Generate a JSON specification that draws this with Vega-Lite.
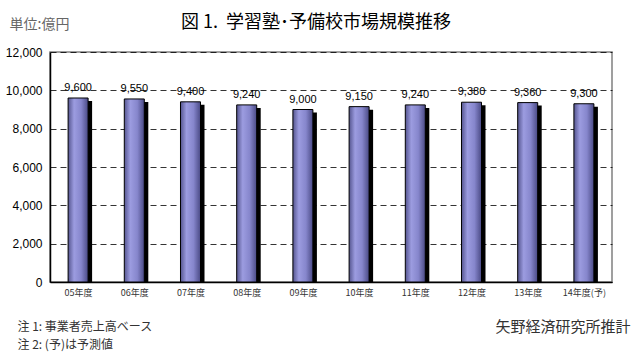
{
  "$schema": "https://vega.github.io/schema/vega-lite/v6.json",
  "autosize": "none",
  "width": 562,
  "height": 230,
  "padding": {"left": 50, "top": 52, "right": 28, "bottom": 75},
  "background": "white",
  "config": {
    "view": {"stroke": "#808080", "strokeWidth": 1.5},
    "font": "Noto Sans CJK JP"
  },
  "title": {
    "text": "図 1.\u00a0\u00a0学習塾･予備校市場規模推移",
    "font": "Noto Sans CJK JP",
    "fontSize": 18,
    "fontWeight": "normal",
    "color": "#000000",
    "anchor": "middle",
    "frame": "group",
    "dx": -15,
    "offset": -15
  },
  "data": {
    "values": [
      {"year": "05年度", "value": 9600},
      {"year": "06年度", "value": 9550},
      {"year": "07年度", "value": 9400},
      {"year": "08年度", "value": 9240},
      {"year": "09年度", "value": 9000},
      {"year": "10年度", "value": 9150},
      {"year": "11年度", "value": 9240},
      {"year": "12年度", "value": 9380},
      {"year": "13年度", "value": 9360},
      {"year": "14年度(予)", "value": 9300}
    ]
  },
  "encoding": {
    "x": {
      "field": "year",
      "type": "nominal",
      "sort": null,
      "scale": {"paddingInner": 0.644, "paddingOuter": 0.322},
      "axis": {
        "labelAngle": 0,
        "labelFont": "Noto Sans CJK JP",
        "labelFontSize": 9,
        "labelColor": "#333333",
        "labelPadding": 10,
        "domainColor": "#000000",
        "domainWidth": 1.5,
        "tickBand": "extent",
        "tickColor": "#000000",
        "tickSize": -4,
        "title": ["注 1: 事業者売上高ベース", "注 2: (予)は予測値"],
        "titleFont": "Noto Sans CJK JP",
        "titleFontSize": 12,
        "titleFontWeight": "normal",
        "titleColor": "#333333",
        "titleAlign": "left",
        "titleAnchor": "start",
        "titleBaseline": "middle",
        "titleLineHeight": 18,
        "titleX": -33,
        "titleY": 44
      }
    }
  },
  "layer": [
    {
      "mark": {"type": "bar", "color": "#000000", "xOffset": 4, "yOffset": 3, "clip": true},
      "encoding": {
        "y": {
          "field": "value",
          "type": "quantitative",
          "scale": {"domain": [0, 12000], "nice": false},
          "axis": {
            "orient": "right",
            "labels": false,
            "ticks": false,
            "domain": false,
            "grid": false,
            "title": "矢野経済研究所推計",
            "titleFont": "Noto Sans CJK JP",
            "titleFontSize": 15,
            "titleFontWeight": "normal",
            "titleColor": "#333333",
            "titleAngle": 0,
            "titleAlign": "right",
            "titleBaseline": "middle",
            "titleX": 18,
            "titleY": 274
          }
        }
      }
    },
    {
      "mark": {
        "type": "bar",
        "stroke": "#000000",
        "strokeWidth": 1,
        "color": {
          "gradient": "linear",
          "x1": 0, "y1": 0, "x2": 1, "y2": 0,
          "stops": [
            {"offset": 0, "color": "#55558f"},
            {"offset": 0.3, "color": "#9c9ce0"},
            {"offset": 0.65, "color": "#8686cc"},
            {"offset": 1, "color": "#4a4a85"}
          ]
        }
      },
      "encoding": {
        "y": {
          "field": "value",
          "type": "quantitative",
          "scale": {"domain": [0, 12000], "nice": false},
          "axis": {
            "values": [0, 2000, 4000, 6000, 8000, 10000, 12000],
            "format": ",.0f",
            "labelFont": "Liberation Sans",
            "labelFontSize": 12,
            "labelColor": "#000000",
            "labelPadding": 8,
            "ticks": false,
            "domainColor": "#000000",
            "domainWidth": 1.5,
            "grid": true,
            "gridColor": "#000000",
            "gridDash": [6, 4],
            "gridWidth": 0.8,
            "title": "単位:億円",
            "titleFont": "Noto Sans CJK JP",
            "titleFontSize": 14,
            "titleFontWeight": "normal",
            "titleColor": "#666666",
            "titleAngle": 0,
            "titleAlign": "left",
            "titleBaseline": "middle",
            "titleX": -41,
            "titleY": -28
          }
        }
      }
    },
    {
      "mark": {"type": "text", "dy": -10, "font": "Liberation Sans", "fontSize": 11, "color": "#000000"},
      "encoding": {
        "y": {"field": "value", "type": "quantitative", "scale": {"domain": [0, 12000], "nice": false}, "axis": null},
        "text": {"field": "value", "type": "quantitative", "format": ",.0f"}
      }
    }
  ],
  "resolve": {"scale": {"y": "independent"}}
}
